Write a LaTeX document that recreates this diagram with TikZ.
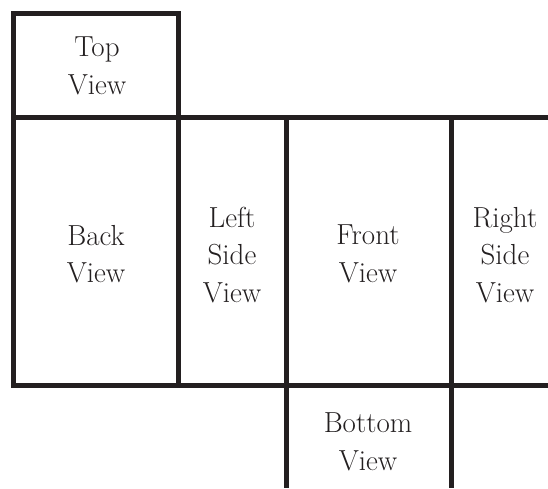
\documentclass[tikz,border=0pt]{standalone}
\usepackage{tikz}

\definecolor{ink}{HTML}{231F20}

\begin{document}
\begin{tikzpicture}[x=1pt,y=-1pt,
  wall/.style={draw=ink, line width=5pt, line join=miter},
  viewlabel/.style={align=center, text=ink, font=\fontsize{29}{37.5}\selectfont}]

\useasboundingbox (0,0) rectangle (548,488);

% Outline of the top box and left/bottom edges
\draw[wall] (178,117) -- (178,13) -- (13,13) -- (13,385) -- (548,385);

% Rows
\draw[wall] (13,117) -- (548,117);

% Columns
\draw[wall] (178,117) -- (178,385);
\draw[wall] (286,117) -- (286,488);
\draw[wall] (451,117) -- (451,488);

% Labels
\node[viewlabel] (top) at (97,66) {Top\\View};
\node[viewlabel] (back) at (96,254) {Back\\View};
\node[viewlabel] (left) at (232,255) {Left\\Side\\View};
\node[viewlabel] (front) at (368,254) {Front\\View};
\node[viewlabel] (right) at (505,255) {Right\\Side\\View};
\node[viewlabel] (bottom) at (368,442) {Bottom\\View};

\end{tikzpicture}
\end{document}
